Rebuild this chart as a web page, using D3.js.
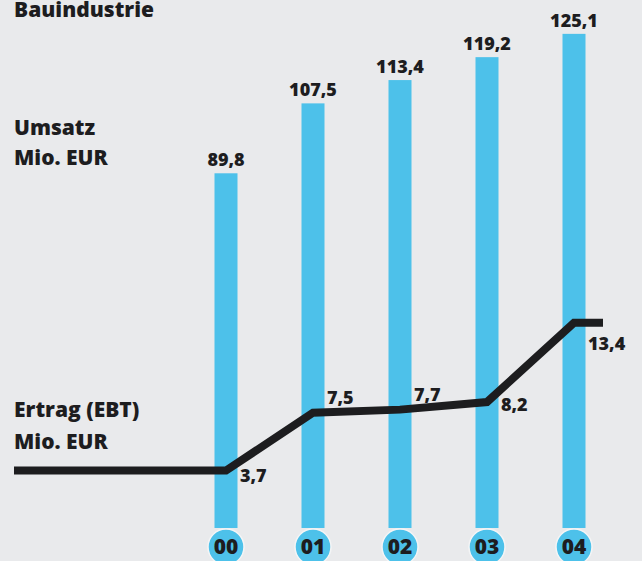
<!DOCTYPE html>
<html>
<head>
<meta charset="utf-8">
<script src="https://cdn.jsdelivr.net/npm/d3@7"></script>
<style>
  body { margin: 0; background: #e9eaec; }
  text { font-family: "Open Sans", sans-serif; font-weight: 800; fill: #1d1d1f; }
</style>
</head>
<body>
<div id="chart"></div>
<script>
// data
var years = ["00", "01", "02", "03", "04"];
var umsatz = [89.8, 107.5, 113.4, 119.2, 125.1];
var ertrag = [3.7, 7.5, 7.7, 8.2, 13.4];
var umsatzLabels = ["89,8", "107,5", "113,4", "119,2", "125,1"];
var ertragLabels = ["3,7", "7,5", "7,7", "8,2", "13,4"];
// where the EBT label sits relative to its point
var ertragPlace = ["below", "above", "above", "right", "under"];

var width = 642, height = 561;
var blue = "#4dc1ea", ink = "#1d1d1f";

var svg = d3.select("#chart").append("svg")
  .attr("width", width)
  .attr("height", height);

svg.append("rect").attr("width", width).attr("height", height).attr("fill", "#e9eaec");

var x = d3.scalePoint().domain(years).range([226, 574]);
var yBar = d3.scaleLinear().domain([0, 130]).range([528, 14.5]);
var yLine = d3.scaleLinear().domain([0, 14]).range([527, 313.6]);

var barW = 23;

// bars
svg.selectAll("rect.bar")
  .data(umsatz)
  .enter().append("rect")
  .attr("class", "bar")
  .attr("x", function(d, i) { return x(years[i]) - barW / 2; })
  .attr("y", function(d) { return yBar(d); })
  .attr("width", barW)
  .attr("height", function(d) { return yBar(0) - yBar(d); })
  .attr("fill", blue);

// bar values
svg.selectAll("text.uval")
  .data(umsatz)
  .enter().append("text")
  .attr("class", "uval")
  .attr("x", function(d, i) { return x(years[i]); })
  .attr("y", function(d) { return yBar(d) - 7; })
  .attr("text-anchor", "middle")
  .style("font-size", "18px")
  .text(function(d, i) { return umsatzLabels[i]; });

// year bubbles
var bubble = svg.selectAll("g.year")
  .data(years)
  .enter().append("g")
  .attr("class", "year")
  .attr("transform", function(d) { return "translate(" + x(d) + "," + (yBar(0) + 19) + ")"; });

bubble.append("circle")
  .attr("r", 18)
  .attr("fill", blue)
  .attr("stroke", "#f4f5f6")
  .attr("stroke-width", 1.5);

bubble.append("text")
  .attr("text-anchor", "middle")
  .attr("y", 7)
  .style("font-size", "21px")
  .text(function(d) { return d; });

// EBT line, running flat out to the left and right edges
var pts = ertrag.map(function(v, i) { return [x(years[i]), yLine(v)]; });
pts.unshift([14, yLine(ertrag[0])]);
pts.push([603, yLine(ertrag[ertrag.length - 1])]);

svg.append("path")
  .attr("d", d3.line()(pts))
  .attr("fill", "none")
  .attr("stroke", ink)
  .attr("stroke-width", 8)
  .attr("stroke-linejoin", "miter");

var placeDy = { below: 11, above: -9, right: 9, under: 27 };
svg.selectAll("text.eval")
  .data(ertrag)
  .enter().append("text")
  .attr("class", "eval")
  .attr("x", function(d, i) { return x(years[i]) + 14; })
  .attr("y", function(d, i) { return yLine(d) + placeDy[ertragPlace[i]]; })
  .style("font-size", "18px")
  .text(function(d, i) { return ertragLabels[i]; });

// left captions
var captions = [
  { t: "Bauindustrie", y: 17 },
  { t: "Umsatz", y: 135 },
  { t: "Mio. EUR", y: 165 },
  { t: "Ertrag (EBT)", y: 417 },
  { t: "Mio. EUR", y: 449 }
];
svg.selectAll("text.cap")
  .data(captions)
  .enter().append("text")
  .attr("class", "cap")
  .attr("x", 14)
  .attr("y", function(d) { return d.y; })
  .style("font-size", "21px")
  .text(function(d) { return d.t; });
</script>
</body>
</html>
